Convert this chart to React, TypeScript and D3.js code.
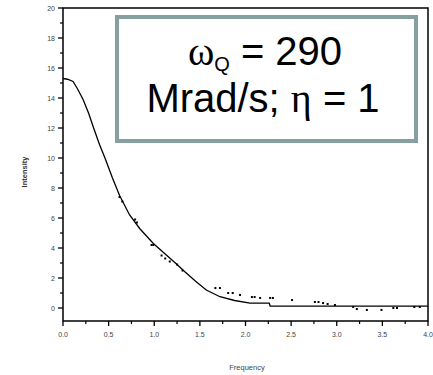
import React from "react";
import * as d3 from "d3";

const simFreq = [0, 0.05, 0.11, 0.16, 0.22, 0.28, 0.33, 0.4, 0.46, 0.54, 0.62, 0.73, 0.84, 0.99, 1.12, 1.25, 1.32, 1.45, 1.57, 1.72, 1.88, 2.05, 2.26, 2.27, 4.0];
const simInt = [15.3, 15.25, 15.1, 14.6, 13.9, 13.0, 12.1, 10.9, 10.0, 8.7, 7.5, 6.2, 5.3, 4.3, 3.6, 2.9, 2.5, 1.8, 1.2, 0.75, 0.5, 0.33, 0.33, 0.13, 0.13];

const dataFreq = [0.62, 0.65, 0.79, 0.81, 0.97, 0.99, 1.08, 1.12, 1.17, 1.25, 1.31, 1.67, 1.72, 1.81, 1.86, 1.94, 2.07, 2.1, 2.16, 2.27, 2.3, 2.51, 2.76, 2.8, 2.85, 2.9, 2.98, 3.18, 3.22, 3.33, 3.49, 3.62, 3.66, 3.85, 3.91];
const dataInt = [7.4, 7.1, 5.9, 5.7, 4.2, 4.2, 3.5, 3.3, 3.1, 2.9, 2.5, 1.33, 1.33, 1.0, 1.0, 0.87, 0.73, 0.73, 0.67, 0.67, 0.67, 0.53, 0.4, 0.4, 0.33, 0.27, 0.2, 0.07, -0.07, -0.13, -0.13, 0.0, 0.0, 0.07, 0.07];

const xTicks = [0, 0.5, 1.0, 1.5, 2.0, 2.5, 3.0, 3.5, 4.0];
const xMinor = [0.25, 0.75, 1.25, 1.75, 2.25, 2.75, 3.25, 3.75];
const yTicks = [0, 2, 4, 6, 8, 10, 12, 14, 16, 18, 20];
const yMinor = [1, 3, 5, 7, 9, 11, 13, 15, 17, 19];

export default function App() {
  const W = 433, H = 375;
  const x = d3.scaleLinear().domain([0, 4]).range([63, 428]);
  const y = d3.scaleLinear().domain([0, 20]).range([308, 8]);
  const yBottom = 321;
  const line = d3.line<number>().x((_, i) => x(simFreq[i])).y((d) => y(d));
  const font = "Arial, 'Liberation Sans', sans-serif";
  const serif = "'Times New Roman', 'Liberation Serif', serif";
  return (
    <svg width={W} height={H} style={{ position: "absolute", left: 0, top: 0 }}>
      <rect width={W} height={H} fill="#fff" />
      {/* frame */}
      <rect x={63} y={8} width={365} height={yBottom - 8} fill="none" stroke="#000" strokeWidth={1.5} />
      {/* y ticks */}
      {yTicks.map((t) => (
        <g key={"y" + t}>
          <line x1={58} x2={63} y1={y(t)} y2={y(t)} stroke="#000" strokeWidth={1.3} />
          <text x={55} y={y(t) + 2.5} fontSize={7} textAnchor="end" fill="#444" fontFamily={font}>{t}</text>
        </g>
      ))}
      {yMinor.map((t) => (
        <line key={"ym" + t} x1={60} x2={63} y1={y(t)} y2={y(t)} stroke="#000" strokeWidth={1.2} />
      ))}
      {/* x ticks */}
      {xTicks.map((t) => (
        <g key={"x" + t}>
          <line x1={x(t)} x2={x(t)} y1={yBottom} y2={yBottom + 5} stroke="#000" strokeWidth={1.3} />
          <text x={x(t)} y={337} fontSize={7} textAnchor="middle" fill="#444" fontFamily={font}>{t.toFixed(1)}</text>
        </g>
      ))}
      {xMinor.map((t) => (
        <line key={"xm" + t} x1={x(t)} x2={x(t)} y1={yBottom} y2={yBottom + 3} stroke="#000" strokeWidth={1.2} />
      ))}
      <text x={247} y={370} fontSize={7.5} textAnchor="middle" fill="#444" fontFamily={font}>Frequency</text>
      <text transform="translate(27,172) rotate(-90)" fontSize={7.5} fontWeight="bold" textAnchor="middle" fill="#333" fontFamily={font}>Intensity</text>
      {/* simulation line */}
      <path d={line(simInt) || ""} fill="none" stroke="#000" strokeWidth={1.3} />
      {/* data points */}
      {dataFreq.map((f, i) => (
        <rect key={"p" + i} x={x(f) - 1} y={y(dataInt[i]) - 1} width={2} height={2} fill="#000" />
      ))}
      {/* annotation box */}
      <rect x={117} y={17} width={299} height={124} fill="#fff" stroke="#86a0a0" strokeWidth={4} />
      <text x={265} y={65} fontSize={40} textAnchor="middle" fill="#000" fontFamily={font}>
        <tspan fontFamily={serif}>ω</tspan>
        <tspan fontSize={20} dy={6}>Q</tspan>
        <tspan dy={-6}> = 290</tspan>
      </text>
      <text x={263} y={112} fontSize={40} textAnchor="middle" fill="#000" fontFamily={font}>
        Mrad/s; <tspan fontFamily={serif}>η</tspan> = 1
      </text>
    </svg>
  );
}
